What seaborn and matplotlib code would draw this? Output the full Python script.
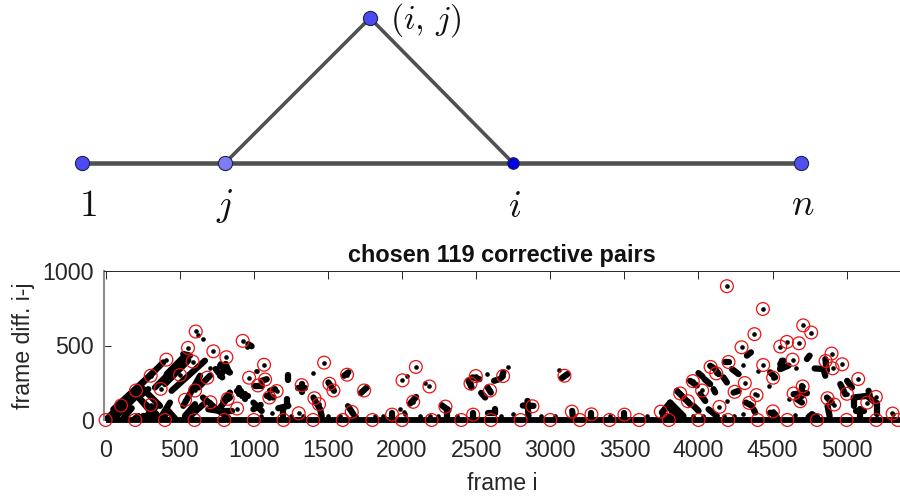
"""Corrective pairs figure: graph sketch on top, chosen pairs scatter below."""

import matplotlib
matplotlib.use("Agg")
import matplotlib.pyplot as plt
import pandas as pd
import seaborn as sns

sns.set_style("white")
plt.rcParams['font.family'] = ['Liberation Sans', 'DejaVu Sans']
plt.rcParams['mathtext.fontset'] = 'cm'

# top sketch, figure pixels
node_x = [82, 225, 370, 513, 801]
node_y = [163, 163, 18, 163, 163]
node_colors = ['#4a4af2', '#7d7df5', '#4a4af2', '#0000e6', '#4f4ff0']
node_sizes = [10.2, 10.2, 10.2, 8.3, 10.2]
node_labels = ['$1$', '$j$', '$i$', '$n$']
node_label_x = [88, 225, 515, 803]
node_label_y = [206, 206, 207, 205]

# red circles, row diff = 0
base_i = [0, 200, 400, 600, 800, 1000, 1200, 1400, 1600, 1800, 2000, 2200, 2400, 2600,
          2800, 3000, 3200, 3400, 3600, 3800, 4000, 4200, 4400, 4600, 4800, 5000, 5200, 5345]
base_d = [0] * len(base_i)

# red circles, off the baseline
chosen_i = [104, 205, 304, 410, 304, 371, 502, 556, 608, 587, 536, 603, 686, 707, 727, 815,
            824, 887, 925, 968, 1028, 1069, 1076, 1105, 1154, 1303, 1323, 1409, 1440, 1474,
            1510, 1537, 1629, 1661, 1744, 1933, 2003, 2093, 2075, 2185, 2293, 2480, 2462,
            2498, 2594, 2682, 2880, 3096, 3146, 3278, 3501, 3746, 3877, 3929, 3962, 4025,
            4082, 4120, 4142, 4203, 4244, 4291, 4313, 4342, 4378, 4392, 4192, 4435, 4437,
            4504, 4502, 4552, 4597, 4635, 4678, 4707, 4761, 4642, 4687, 4703, 4858, 4898,
            4905, 4871, 4916, 4970, 5002, 5078, 5139, 5197, 5310]
chosen_d = [97, 198, 297, 405, 101, 209, 302, 484, 594, 392, 135, 198, 284, 119, 461, 421,
            142, 77, 531, 284, 232, 371, 272, 151, 194, 45, 234, 146, 106, 385,
            243, 198, 304, 54, 198, 36, 266, 356, 122, 225, 90, 36, 245,
            295, 198, 295, 92, 297, 56, 38, 36, 56, 178, 126, 261, 198,
            356, 313, 88, 389, 189, 488, 248, 115, 576, 167, 898, 745, 369,
            284, 58, 493, 524, 405, 515, 635, 587, 178, 126, 225, 396, 446,
            347, 146, 104, 374, 176, 275, 117, 155, 43]

# other isolated pairs
extra_i = [625, 655, 952, 979, 1019, 1400, 704, 772, 1627, 1987, 2014, 2036, 2572, 2714, 3056,
           4304, 4401, 4477, 4192, 4383, 4660, 4608, 1015, 2156]
extra_d = [572, 542, 493, 497, 331, 313, 349, 380, 104, 76, 54, 297, 308, 358, 338,
           369, 331, 229, 128, 173, 349, 140, 331, 245]

# bumps sitting on the baseline
bump_i = [1050, 1120, 1250, 1330, 1500, 1580, 1690, 1820, 1870, 2020, 2120, 2190, 2240,
          2370, 2670, 2750, 2940, 3030, 3160, 3400, 3650, 4653, 4304, 4530, 5306, 4170, 4240,
          3960, 4030]
bump_d = [30, 45, 30, 25, 25, 30, 25, 30, 25, 40, 25, 25, 30,
          25, 25, 40, 30, 30, 30, 25, 30, 31, 38, 30, 45, 30, 30,
          30, 30]

# runs of pairs along the diagonals, as segments
seg_i0 = [11, 63, 119, 198, 209, 254, 232, 333, 401, 524, 445, 524, 625, 742, 810, 389, 423, 378,
          535, 558, 657, 693, 748, 794, 772, 772, 884, 902, 941, 918, 772, 783, 817, 997, 997,
          963, 1008, 1053, 1087, 1109, 1233, 1301, 1323, 1222, 1165, 1199, 1402, 1447, 1609,
          1503, 3753, 3809, 3764, 3809, 3854, 3967, 3944, 4000, 4041, 4102, 4012, 4079, 4113,
          4169, 4181, 4226, 4327, 4237, 4068, 4320, 4372, 4552, 4507, 4732, 4563, 4552, 4784,
          4844, 4856, 4484, 4698, 4642, 4664, 4957, 5003, 5047, 5047, 5137, 5148, 5204, 5087,
          5065, 4867, 4871, 4484, 4743, 4766, 1638, 1721, 2054, 2268, 2302, 2448, 2477, 2534,
          2578, 2621, 2673, 2583, 2628, 2815, 2846, 3078, 3148, 1931, 2482, 3501, 3278,
          40, 52, 412, 277, 232, 254]
seg_d0 = [11, 16, 11, 11, 162, 207, 140, 218, 241, 443, 196, 95, 218, 342, 376, 16, 61, 27,
          27, 16, 151, 72, 72, 128, 365, 297, 196, 218, 173, 158, 83, 61, 139, 117, 72,
          509, 229, 263, 162, 196, 301, 214, 241, 139, 79, 72, 151, 72, 297,
          252, 50, 117, 27, 83, 196, 95, 263, 315, 274, 207, 173, 364, 342,
          286, 387, 342, 432, 184, 72, 117, 72, 376, 50, 409, 398, 342, 346,
          342, 409, 320, 229, 173, 140, 241, 263, 139, 151, 162, 196, 117, 72,
          61, 151, 95, 49, 20, 38, 90, 180, 110, 99, 72, 263, 286, 182,
          218, 263, 286, 50, 50, 97, 128, 281, 61, 49, 49, 49, 49,
          11, 72, 308, 27, 162, 27]
seg_i1 = [389, 254, 176, 220, 344, 367, 299, 524, 558, 569, 670, 637, 704, 787, 833, 423, 468, 434,
          603, 661, 737, 770, 827, 839, 839, 806, 911, 902, 941, 963, 817, 855, 839, 1053, 1046,
          985, 1053, 1087, 1132, 1143, 1233, 1346, 1323, 1222, 1233, 1199, 1447, 1458, 1638,
          1541, 3809, 3899, 3866, 3832, 3944, 4001, 3989, 4027, 4079, 4113, 4046, 4113, 4136,
          4192, 4203, 4271, 4354, 4271, 4124, 4361, 4383, 4574, 4507, 4750, 4552, 4608, 4844,
          4856, 4867, 4518, 4698, 4732, 4698, 4991, 5036, 5047, 5137, 5193, 5159, 5204, 5087,
          5114, 4900, 4885, 4518, 4766, 4800, 1672, 1762, 2095, 2313, 2302, 2470, 2522, 2561,
          2599, 2657, 2684, 2628, 2628, 2887, 2853, 3116, 3152, 1931, 2482, 3501, 3278,
          153, 333, 524, 356, 288, 344]
seg_d1 = [387, 207, 79, 27, 38, 95, 61, 409, 400, 432, 398, 297, 297, 286, 320, 61, 11, 117,
          106, 106, 83, 61, 16, 184, 319, 342, 196, 173, 140, 158, 139, 61, 150, 61, 101,
          495, 229, 274, 151, 207, 270, 214, 185, 94, 95, 27, 72, 27, 320,
          196, 117, 27, 27, 34, 106, 61, 231, 292, 241, 185, 128, 342, 308,
          252, 387, 308, 454, 196, 27, 95, 50, 398, 20, 432, 342, 365, 342,
          297, 331, 286, 162, 180, 117, 173, 218, 94, 162, 117, 151, 38, 20,
          61, 117, 27, 38, 38, 20, 38, 218, 155, 65, 20, 218, 274, 151,
          184, 274, 320, 50, 76, 95, 27, 308, 27, 16, 16, 16, 16,
          117, 331, 421, 106, 207, 27]

x_ticks = [0, 500, 1000, 1500, 2000, 2500, 3000, 3500, 4000, 4500, 5000]
y_ticks = [0, 500, 1000]

dots = pd.DataFrame({'i': chosen_i + extra_i + bump_i, 'd': chosen_d + extra_d + bump_d})
segments = pd.DataFrame({'seg': list(range(len(seg_i0))) * 2, 'i': seg_i0 + seg_i1, 'd': seg_d0 + seg_d1})
baseline = pd.DataFrame({'i': [0, 5360], 'd': [0, 0]})
circles = pd.DataFrame({'i': base_i + chosen_i, 'd': base_d + chosen_d})

fig = plt.figure(figsize=(9, 4.96), dpi=100)

# sketch
top = fig.add_axes([0, 0, 1, 1])
top.set_xlim(0, 900)
top.set_ylim(496, 0)
top.axis('off')
top.plot([82, 801], [163, 163], color='#505050', lw=3.3, zorder=1)
top.plot([225, 370, 513], [163, 18, 163], color='#505050', lw=2.6, zorder=1)
for x, y, c, s in zip(node_x, node_y, node_colors, node_sizes):
    top.plot(x, y, 'o', color=c, mec='#222244', mew=0.8, ms=s, zorder=2)
for x, y, t in zip(node_label_x, node_label_y, node_labels):
    top.text(x, y, t, fontsize=27, ha='center', va='center', color='#111111')
top.text(426, 20, '$(i,\\,j)$', fontsize=24.5, ha='center', va='center', color='#111111')

# pairs scatter
ax = fig.add_axes([103.7 / 900, 1 - 420 / 496, (900 - 103.7) / 900, 149 / 496])
sns.lineplot(data=baseline, x='i', y='d', color='black', linewidth=4.2, ax=ax,
             estimator=None, clip_on=False, solid_capstyle='butt')
sns.lineplot(data=segments, x='i', y='d', units='seg', estimator=None, sort=False, color='black',
             linewidth=4.5, ax=ax, legend=False, clip_on=False, solid_capstyle='round')
sns.scatterplot(data=dots, x='i', y='d', color='black', s=11, linewidth=0, ax=ax,
                legend=False, clip_on=False)
sns.scatterplot(data=circles, x='i', y='d', s=85, facecolor='none', edgecolor='#ee1111',
                linewidth=0.9, ax=ax, legend=False, clip_on=False, zorder=5)

ax.set_xlim(-13, 5360)
ax.set_ylim(0, 1000)
ax.set_xticks(x_ticks)
ax.set_yticks(y_ticks)
ax.tick_params(axis='x', direction='in', top=True, bottom=False, length=5.8, width=0.7,
               color='#262626', labelsize=16.7, labelcolor='#262626', pad=14)
ax.tick_params(axis='y', direction='in', left=True, length=5.0, width=0.7,
               color='#262626', labelsize=16.7, labelcolor='#262626', pad=7)
ax.set_xlabel('frame i', fontsize=16.7, color='#262626', labelpad=7)
ax.set_ylabel('frame diff. i-j', fontsize=16.7, color='#262626', labelpad=5.5)
ax.set_title('chosen 119 corrective pairs', fontsize=16.9, fontweight='bold', pad=6.5, color='#111111')
ax.patch.set_alpha(0)
ax.spines['right'].set_visible(False)
ax.spines['bottom'].set_visible(False)
ax.spines['top'].set_color('#262626')
ax.spines['top'].set_linewidth(0.7)
ax.spines['left'].set_color('#8c8c8c')
ax.spines['left'].set_linewidth(1.5)

fig.savefig('out.png', dpi=100)
